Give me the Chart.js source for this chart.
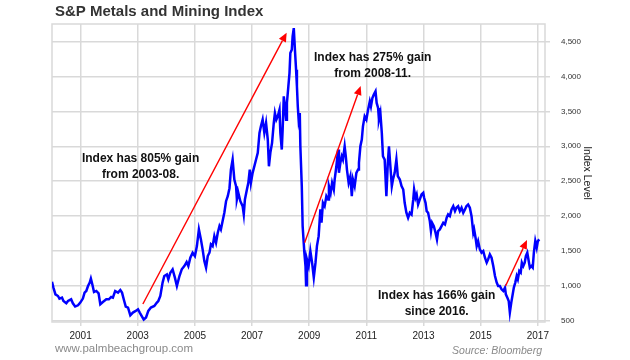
<!DOCTYPE html>
<html>
<head>
  <meta http-equiv="content-type" content="text/html; charset=utf-8"/>
  <script src="https://cdn.jsdelivr.net/npm/chart.js@4.4.0/dist/chart.umd.min.js"></script>
  <style>
    body { margin: 0; background: #fff; }
  </style>
</head>
<body>
<canvas id="chart" width="630" height="360"></canvas>

<script>
    // S&P Metals and Mining Index (decimal year, index level)
    const years = [
        2000.00, 2000.05, 2000.12, 2000.21, 2000.26, 2000.35, 2000.40, 2000.50, 2000.56, 2000.67, 2000.73, 2000.81, 2000.91, 2000.99,
        2001.08, 2001.14, 2001.20, 2001.26, 2001.32, 2001.36, 2001.41, 2001.47, 2001.55, 2001.63, 2001.69, 2001.78, 2001.90, 2001.99,
        2002.07, 2002.13, 2002.21, 2002.31, 2002.39, 2002.45, 2002.51, 2002.58, 2002.66, 2002.74, 2002.83, 2002.93,
        2003.01, 2003.07, 2003.14, 2003.21, 2003.29, 2003.37, 2003.46, 2003.58, 2003.67, 2003.72, 2003.79, 2003.87, 2003.93,
        2004.02, 2004.07, 2004.14, 2004.22, 2004.30, 2004.37, 2004.46, 2004.54, 2004.63, 2004.71, 2004.77, 2004.84, 2004.92,
        2005.00, 2005.07, 2005.14, 2005.21, 2005.27, 2005.33, 2005.39, 2005.45, 2005.51, 2005.56, 2005.62, 2005.68, 2005.74, 2005.80, 2005.86, 2005.91, 2005.97,
        2006.03, 2006.09, 2006.15, 2006.21, 2006.26, 2006.32, 2006.38, 2006.44, 2006.47, 2006.52, 2006.59, 2006.67, 2006.71, 2006.75, 2006.82, 2006.87, 2006.92, 2006.96,
        2007.02, 2007.08, 2007.14, 2007.20, 2007.26, 2007.31, 2007.37, 2007.43, 2007.49, 2007.55, 2007.59, 2007.64, 2007.70, 2007.76, 2007.80, 2007.85, 2007.90, 2007.96, 2007.99,
        2008.04, 2008.07, 2008.11, 2008.15, 2008.19, 2008.22, 2008.27, 2008.31, 2008.34, 2008.39, 2008.42, 2008.46, 2008.50, 2008.54, 2008.57, 2008.60, 2008.63, 2008.67, 2008.69,
        2008.74, 2008.77, 2008.80, 2008.83, 2008.87, 2008.89, 2008.92, 2008.98,
        2009.04, 2009.10, 2009.16, 2009.22, 2009.27, 2009.33, 2009.39, 2009.43, 2009.48, 2009.54, 2009.60, 2009.66, 2009.69, 2009.75, 2009.80, 2009.86, 2009.89, 2009.95,
        2010.01, 2010.04, 2010.09, 2010.14, 2010.18, 2010.24, 2010.28, 2010.32, 2010.38, 2010.44, 2010.49, 2010.53, 2010.59, 2010.65, 2010.71, 2010.74, 2010.79, 2010.84, 2010.88, 2010.94,
        2011.00, 2011.06, 2011.12, 2011.16, 2011.21, 2011.26, 2011.32, 2011.36, 2011.41, 2011.44, 2011.49, 2011.54, 2011.58, 2011.64, 2011.70, 2011.75, 2011.79, 2011.84, 2011.89, 2011.93, 2011.99,
        2012.05, 2012.10, 2012.17, 2012.23, 2012.29, 2012.34, 2012.40, 2012.46, 2012.52, 2012.58, 2012.64, 2012.67, 2012.72, 2012.76, 2012.81, 2012.87, 2012.93, 2012.99,
        2013.02, 2013.07, 2013.11, 2013.16, 2013.22, 2013.26, 2013.30, 2013.36, 2013.42, 2013.47, 2013.51, 2013.57, 2013.63, 2013.69, 2013.75, 2013.81, 2013.86, 2013.92, 2013.98,
        2014.04, 2014.10, 2014.15, 2014.21, 2014.27, 2014.33, 2014.39, 2014.45, 2014.50, 2014.56, 2014.62, 2014.68, 2014.74, 2014.77, 2014.82, 2014.86, 2014.91, 2014.97,
        2015.03, 2015.09, 2015.15, 2015.21, 2015.26, 2015.32, 2015.38, 2015.44, 2015.50, 2015.56, 2015.61, 2015.67, 2015.73, 2015.79, 2015.85, 2015.88, 2015.93, 2015.98,
        2016.02, 2016.07, 2016.12, 2016.16, 2016.21, 2016.26, 2016.30, 2016.35, 2016.40, 2016.44, 2016.49, 2016.54, 2016.58, 2016.63, 2016.68, 2016.72, 2016.77, 2016.82, 2016.86, 2016.91, 2016.96,
        2017.00, 2017.05
    ];
    const indexLevel = [
        1060, 977, 881, 857, 820, 834, 786, 753, 786, 810, 753, 706, 724, 763,
        820, 906, 929, 1000, 1049, 1106, 1024, 914, 929, 896, 739, 771, 810, 810,
        843, 834, 929, 906, 943, 906, 810, 706, 691, 581, 620, 643,
        667, 620, 570, 520, 549, 643, 691, 714, 763, 786, 857, 1049, 1143,
        1167, 1096, 1191, 1239, 1120, 1000, 1143, 1239, 1286, 1343, 1286, 1406, 1477,
        1429, 1571, 1810, 1667, 1524, 1357, 1263, 1429, 1477, 1596, 1571, 1714, 1620, 1763, 1857, 1810, 1929,
        2049, 2214, 2286, 2400, 2667, 2810, 2524, 2429, 2239, 2334, 2214, 2143, 2024, 2239, 2381, 2477, 2667, 2477,
        2620, 2714, 2810, 2906, 3191, 3286, 3381, 3191, 3334, 3096, 2714, 2906, 3049, 3334, 3477, 3381, 3429, 3524, 3191,
        2953, 3239, 3715, 3572, 3381, 3620, 3858, 4048, 4334, 4382, 4572, 4691, 4382, 4096, 3858, 3572, 3381, 3477, 3000,
        2429, 1857, 1667, 1477, 1286, 1010, 1381, 1286,
        1500, 1334, 1120, 1334, 1571, 1714, 2096, 1906, 2191, 2143, 2286, 2239, 2429, 2334, 2477, 2381, 2524, 2714,
        2953, 2620, 2763, 2857, 2810, 3000, 2857, 2667, 2477, 2572, 2286, 2524, 2429, 2620, 2667, 2763, 3000, 3096, 3286, 3429,
        3381, 3524, 3643, 3572, 3691, 3739, 3786, 3620, 3548, 3381, 3477, 3191, 2857, 2810, 2286, 2763, 3000, 2714, 2429, 2524, 2620,
        2810, 2572, 2524, 2429, 2381, 2191, 2050, 1977, 2048, 2024, 2239, 2381, 2263, 2310, 2167, 2239, 2310, 2334,
        2263, 2191, 2072, 2048, 1929, 1786, 1905, 1857, 1763, 1667, 1786, 1810, 1857, 1905, 1881, 1977, 2024, 2000, 2096,
        2143, 2072, 2120, 2143, 2072, 2120, 2048, 2096, 2143, 2167, 2120, 2000, 1763, 1810, 1691, 1572, 1643, 1524,
        1477, 1500, 1405, 1334, 1381, 1453, 1405, 1286, 1143, 1049, 1000, 1000, 953, 929, 977, 881, 834, 786,
        620, 763, 881, 977, 1049, 1143, 1096, 1214, 1191, 1334, 1286, 1334, 1429, 1477, 1357, 1263, 1286, 1263, 1477, 1643, 1548,
        1643, 1667
    ];
    const yearTicks = [2001, 2003, 2005, 2007, 2009, 2011, 2013, 2015, 2017];
    const levelTicks = [500, 1000, 1500, 2000, 2500, 3000, 3500, 4000, 4500];

    // callouts: arrow from [year, level] to [year, level], text centred on [year, level]
    const arrows = [
        [2003.18, 743, 2008.21, 4625],
        [2008.84, 1620, 2010.80, 3862],
        [2015.87, 1000, 2016.62, 1659]
    ];
    const notes = [
        { year: 2003.10, level: 2818, text: ['Index has 805% gain', 'from 2003-08.'] },
        { year: 2011.22, level: 4263, text: ['Index has 275% gain', 'from 2008-11.'] },
        { year: 2013.46, level: 857, text: ['Index has 166% gain', 'since 2016.'] }
    ];

    const FONT = "'Liberation Sans', Arial, sans-serif";
    const GRID = '#d9d9d9';

    const decorations = {
        id: 'decorations',
        beforeDatasetsDraw(chart) {
            const { ctx, chartArea: a } = chart;
            ctx.save();
            ctx.strokeStyle = GRID;
            ctx.lineWidth = 1.5;
            ctx.strokeRect(a.left, a.top, a.width, a.height);
            ctx.restore();
        },
        afterDraw(chart) {
            const { ctx } = chart;
            const xs = chart.scales.x, ys = chart.scales.y;
            ctx.save();

            // arrows
            ctx.strokeStyle = '#ff0000';
            ctx.fillStyle = '#ff0000';
            ctx.lineWidth = 1.4;
            arrows.forEach(([x0, y0, x1, y1]) => {
                const px0 = xs.getPixelForValue(x0), py0 = ys.getPixelForValue(y0);
                const px1 = xs.getPixelForValue(x1), py1 = ys.getPixelForValue(y1);
                const ang = Math.atan2(py1 - py0, px1 - px0);
                const head = 9, half = 4;
                const bx = px1 - head * Math.cos(ang), by = py1 - head * Math.sin(ang);
                ctx.beginPath();
                ctx.moveTo(px0, py0);
                ctx.lineTo(bx, by);
                ctx.stroke();
                ctx.beginPath();
                ctx.moveTo(px1, py1);
                ctx.lineTo(bx + half * Math.sin(ang), by - half * Math.cos(ang));
                ctx.lineTo(bx - half * Math.sin(ang), by + half * Math.cos(ang));
                ctx.closePath();
                ctx.fill();
            });

            // callout text
            ctx.fillStyle = '#111';
            ctx.font = 'bold 12px ' + FONT;
            ctx.textAlign = 'center';
            ctx.textBaseline = 'middle';
            notes.forEach(n => {
                const px = xs.getPixelForValue(n.year), py = ys.getPixelForValue(n.level);
                n.text.forEach((t, i) => ctx.fillText(t, px, py + i * 15.5));
            });

            // title and footer
            ctx.textAlign = 'left';
            ctx.fillStyle = '#333';
            ctx.font = 'bold 15px ' + FONT;
            ctx.fillText('S&P Metals and Mining Index', 55, 12);
            ctx.fillStyle = '#8a8a8a';
            ctx.font = '11.5px ' + FONT;
            ctx.fillText('www.palmbeachgroup.com', 55, 349);
            ctx.textAlign = 'right';
            ctx.font = 'italic 10.5px ' + FONT;
            ctx.fillText('Source: Bloomberg', 542, 351);
            ctx.restore();
        }
    };

    new Chart(document.getElementById('chart'), {
        type: 'line',
        data: {
            datasets: [{
                data: years.map((y, i) => ({ x: y, y: indexLevel[i] })),
                borderColor: '#0000ff',
                borderWidth: 2.5,
                pointRadius: 0,
                tension: 0,
                fill: false
            }]
        },
        options: {
            responsive: false,
            animation: false,
            layout: { padding: { top: 24, left: 52, right: 37, bottom: 0 } },
            plugins: {
                legend: { display: false },
                tooltip: { enabled: false }
            },
            scales: {
                x: {
                    type: 'linear',
                    min: 2000,
                    max: 2017.25,
                    afterBuildTicks: s => { s.ticks = yearTicks.map(v => ({ value: v })); },
                    afterFit: s => { s.height = 38; },
                    border: { display: false },
                    grid: { color: GRID, lineWidth: 1.5, tickLength: 4 },
                    ticks: {
                        color: '#222',
                        font: { family: FONT, size: 10 },
                        padding: 4,
                        maxRotation: 0,
                        callback: v => String(v)
                    }
                },
                y: {
                    position: 'right',
                    min: 485,
                    max: 4750,
                    afterBuildTicks: s => { s.ticks = levelTicks.map(v => ({ value: v })); },
                    afterFit: s => { s.width = 48; },
                    border: { display: false },
                    grid: { color: GRID, lineWidth: 1.5, tickLength: 5 },
                    ticks: {
                        color: '#333',
                        font: { family: FONT, size: 8 },
                        padding: 11,
                        callback: v => v.toLocaleString('en-US')
                    },
                    title: {
                        display: true,
                        text: 'Index Level',
                        color: '#222',
                        font: { family: FONT, size: 10.5 },
                        padding: 0
                    }
                }
            }
        },
        plugins: [decorations]
    });
</script>
</body>
</html>
